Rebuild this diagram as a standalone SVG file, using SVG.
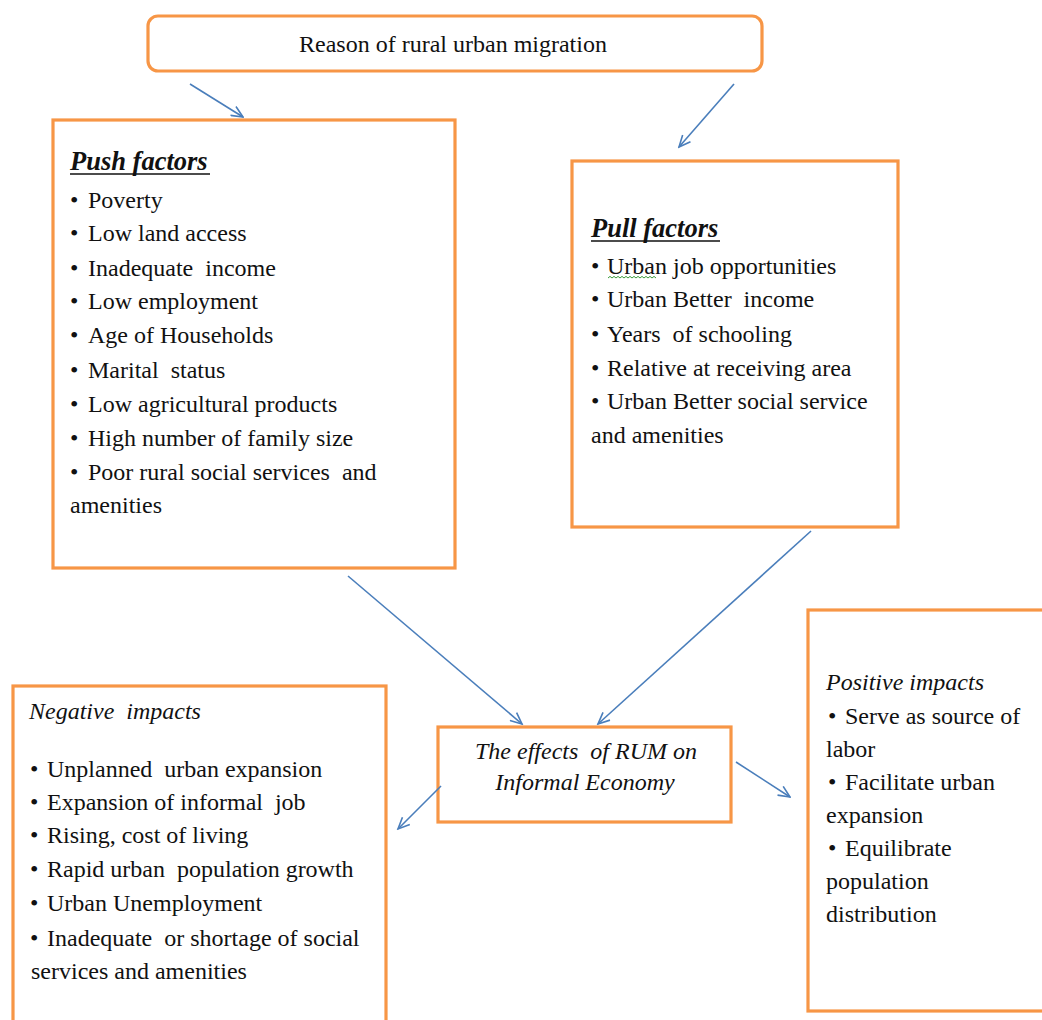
<svg xmlns="http://www.w3.org/2000/svg" width="1042" height="1020" viewBox="0 0 1042 1020" xml:space="preserve">
<defs>
<style>
text{white-space:pre}
.box{fill:#fff;stroke:#F79646;stroke-width:3.2}
.t{font-family:"Liberation Serif","Times New Roman",serif;font-size:24px;fill:#111}
.h{font-family:"Liberation Serif","Times New Roman",serif;font-size:26.5px;font-weight:bold;font-style:italic;fill:#111}
.i{font-style:italic}
.c{text-anchor:middle}
.ul{stroke:#111;stroke-width:1.6}
.conn line{stroke:#4A7EBB;stroke-width:1.6;marker-end:url(#arr)}
</style>
<marker id="arr" viewBox="0 0 14 12" markerWidth="14" markerHeight="12" refX="12.5" refY="6" orient="auto" markerUnits="userSpaceOnUse">
<path d="M1,0.8 L12.5,6 L1,11.2" fill="none" stroke="#4A7EBB" stroke-width="1.6"/>
</marker>
</defs>
<rect width="1042" height="1020" fill="#fff"/>

<g id="reason">
<rect class="box" x="148" y="16" width="614" height="55" rx="10"/>
<text class="t c" x="453" y="52">Reason of rural urban migration</text>
</g>

<g id="push">
<rect class="box" x="53" y="120" width="402" height="448"/>
<text class="h" x="70" y="170">Push factors</text>
<line class="ul" x1="70" y1="174" x2="210" y2="174"/>
<g class="t">
<text x="70" y="208">•</text><text x="88" y="208">Poverty</text>
<text x="70" y="241">•</text><text x="88" y="241">Low land access</text>
<text x="70" y="276">•</text><text x="88" y="276">Inadequate  income</text>
<text x="70" y="309">•</text><text x="88" y="309">Low employment</text>
<text x="70" y="343">•</text><text x="88" y="343">Age of Households</text>
<text x="70" y="378">•</text><text x="88" y="378">Marital  status</text>
<text x="70" y="412">•</text><text x="88" y="412">Low agricultural products</text>
<text x="70" y="446">•</text><text x="88" y="446">High number of family size</text>
<text x="70" y="480">•</text><text x="88" y="480">Poor rural social services  and</text>
<text x="70" y="513">amenities</text>
</g>
</g>

<g id="pull">
<rect class="box" x="572" y="161" width="326" height="366"/>
<text class="h" x="591" y="237">Pull factors</text>
<line class="ul" x1="591" y1="241" x2="720" y2="241"/>
<g class="t">
<text x="591" y="274">•</text><text x="607" y="274">Urban job opportunities</text>
<text x="591" y="307">•</text><text x="607" y="307">Urban Better  income</text>
<text x="591" y="342">•</text><text x="607" y="342">Years  of schooling</text>
<text x="591" y="376">•</text><text x="607" y="376">Relative at receiving area</text>
<text x="591" y="409">•</text><text x="607" y="409">Urban Better social service</text>
<text x="591" y="443">and amenities</text>
</g>
<path d="M608,278 l2,-1.6 l2,1.6 l2,-1.6 l2,1.6 l2,-1.6 l2,1.6 l2,-1.6 l2,1.6 l2,-1.6 l2,1.6 l2,-1.6 l2,1.6 l2,-1.6 l2,1.6 l2,-1.6 l2,1.6 l2,-1.6 l2,1.6 l2,-1.6 l2,1.6 l2,-1.6 l2,1.6 l2,-1.6 l2,1.6" fill="none" stroke="#3a9a3a" stroke-width="1"/>
</g>

<g id="center">
<rect class="box" x="438" y="727" width="293" height="95"/>
<text class="t i c" x="586" y="759">The effects  of RUM on</text>
<text class="t i c" x="585" y="790">Informal Economy</text>
</g>

<g id="negative">
<rect class="box" x="13" y="686" width="373" height="360"/>
<text class="t i" x="29" y="719">Negative  impacts</text>
<g class="t">
<text x="30" y="777">•</text><text x="47" y="777">Unplanned  urban expansion</text>
<text x="30" y="810">•</text><text x="47" y="810">Expansion of informal  job</text>
<text x="30" y="843">•</text><text x="47" y="843">Rising, cost of living</text>
<text x="30" y="877">•</text><text x="47" y="877">Rapid urban  population growth</text>
<text x="30" y="911">•</text><text x="47" y="911">Urban Unemployment</text>
<text x="30" y="946">•</text><text x="47" y="946">Inadequate  or shortage of social</text>
<text x="31" y="979">services and amenities</text>
</g>
</g>

<g id="positive">
<rect class="box" x="808" y="610" width="250" height="401"/>
<text class="t i" x="826" y="690">Positive impacts</text>
<g class="t">
<text x="828" y="724">•</text><text x="845" y="724">Serve as source of</text>
<text x="826" y="757">labor</text>
<text x="828" y="790">•</text><text x="845" y="790">Facilitate urban</text>
<text x="826" y="823">expansion</text>
<text x="828" y="856">•</text><text x="845" y="856">Equilibrate</text>
<text x="826" y="889">population</text>
<text x="826" y="922">distribution</text>
</g>
</g>

<g id="connectors" class="conn">
<line x1="190" y1="84" x2="243" y2="117"/>
<line x1="734" y1="84" x2="679" y2="147"/>
<line x1="348" y1="576" x2="522" y2="724"/>
<line x1="811" y1="531" x2="598" y2="724"/>
<line x1="441" y1="786" x2="398" y2="829"/>
<line x1="736" y1="762" x2="790" y2="797"/>
</g>
</svg>
